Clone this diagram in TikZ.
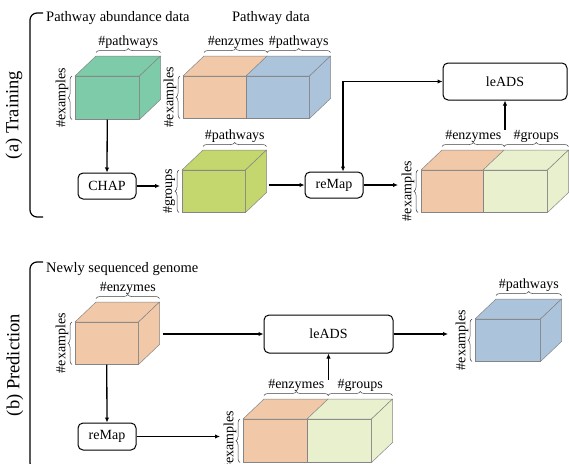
\documentclass[tikz,border=0pt]{standalone}
\usepackage{fontspec}
\setmainfont{Liberation Serif}
\usetikzlibrary{arrows.meta,calc,decorations.pathreplacing}

\definecolor{cgreen}{HTML}{7DCBA8}
\definecolor{corange}{HTML}{F1C9A9}
\definecolor{cblue}{HTML}{ABC3DB}
\definecolor{cyellow}{HTML}{C3D76E}
\definecolor{cpale}{HTML}{E8F0CD}
\definecolor{edge}{HTML}{858585}

% top and right faces of a box whose front face is a node
\newcommand\cubetop[2]{\filldraw[fill=#2,draw=edge,line width=0.5pt,line join=round]
  (#1.north west) -- ++(21,-20) -- ($(#1.north east)+(21,-20)$) -- (#1.north east) -- cycle;}
\newcommand\cubeside[2]{\filldraw[fill=#2,draw=edge,line width=0.5pt,line join=round]
  (#1.north east) -- ++(21,-20) -- ($(#1.south east)+(21,-20)$) -- (#1.south east) -- cycle;}
% small braces with their labels
\newcommand\topbrace[3]{\draw[smallbrace] ($(#1.north west)+(21,-23.5)$) -- ($(#2.north east)+(21,-23.5)$)
  node[midway,yshift=10pt,lab] {#3};}
\newcommand\leftbrace[2]{\draw[smallbrace] ($(#1.south west)+(-3,0)$) -- ($(#1.north west)+(-3,0)$)
  node[midway,xshift=-10pt,rotate=90,lab] {#2};}

\tikzset{
  x=1pt, y=-1pt,
  lab/.style={font=\fontsize{14}{16}\selectfont, inner sep=1pt},
  title/.style={font=\fontsize{14.5}{17}\selectfont, inner sep=0pt},
  part/.style={font=\fontsize{18.5}{21}\selectfont, inner sep=0pt, rotate=90},
  face/.style={draw=edge, line width=0.5pt, inner sep=0pt, anchor=north west},
  stepbox/.style={draw, line width=1pt, rounded corners=5pt, inner sep=0pt,
    font=\fontsize{14}{16}\selectfont},
  arrow/.style={line width=1.3pt, -{Latex[length=5pt,width=4.5pt]}},
  smallbrace/.style={draw=black!75, line width=0.5pt,
    decorate, decoration={brace, amplitude=4pt}},
  bigbrace/.style={line width=1.2pt, rounded corners=7pt},
}

\begin{document}
\begin{tikzpicture}
\useasboundingbox (0,0) rectangle (569,463);

% ---------------- (a) Training ----------------
\draw[bigbrace] (43,13) -- (30,13) -- (30,217) -- (43,217);
\node[part] (tlabel) at (14,115) {(a) Training};
\node[title, anchor=west] (abundtitle) at (46,18) {Pathway abundance data};
\node[title] (pwtitle) at (271,18) {Pathway data};

% pathway abundance data
\node[face, fill=cgreen, minimum width=64pt, minimum height=43pt] (abund) at (75,76) {};
\cubetop{abund}{cgreen}\cubeside{abund}{cgreen}
\topbrace{abund}{abund}{\#pathways}
\leftbrace{abund}{\#examples}

% pathway data: enzymes | pathways
\node[face, fill=corange, minimum width=63pt, minimum height=42pt] (pde) at (183,76) {};
\node[face, fill=cblue, minimum width=63pt, minimum height=42pt] (pdp) at (246,76) {};
\cubetop{pde}{corange}\cubetop{pdp}{cblue}\cubeside{pdp}{cblue}
\topbrace{pde}{pde}{\#enzymes}
\topbrace{pdp}{pdp}{\#pathways}
\leftbrace{pde}{\#examples}

% CHAP output: groups x pathways
\node[face, fill=cyellow, minimum width=63pt, minimum height=42pt] (grp) at (182,170) {};
\cubetop{grp}{cyellow}\cubeside{grp}{cyellow}
\topbrace{grp}{grp}{\#pathways}
\leftbrace{grp}{\#groups}

% reMap output: enzymes | groups
\node[face, fill=corange, minimum width=62pt, minimum height=42pt] (rte) at (421,170) {};
\node[face, fill=cpale, minimum width=64pt, minimum height=42pt] (rtg) at (483,170) {};
\cubetop{rte}{corange}\cubetop{rtg}{cpale}\cubeside{rtg}{cpale}
\topbrace{rte}{rte}{\#enzymes}
\topbrace{rtg}{rtg}{\#groups}
\leftbrace{rte}{\#examples}

% processing steps
\node[stepbox, minimum width=58pt, minimum height=26pt] (chap) at (107,186) {CHAP};
\node[stepbox, minimum width=58pt, minimum height=26pt] (remapT) at (334,185) {reMap};
\node[stepbox, minimum width=124pt, minimum height=37pt] (leadsT) at (505,81.5) {leADS};

\coordinate (grpin) at ($(chap.east -| grp.west)+(-22,0)$);
\coordinate (grpout) at ($(remapT.west -| grp.east)+(23,0)$);
\coordinate (rtin) at ($(remapT.east -| rte.west)+(-23,0)$);
\coordinate (junc) at (343,81.5);
\coordinate (rtup) at ($(leadsT.south)+(0,29)$);

\draw[arrow] (abund.south) -- (chap.north);
\draw[arrow] (chap.east) -- (grpin);
\draw[arrow] (grpout) -- (remapT.west);
\draw[arrow] (remapT.east) -- (rtin);
\draw[arrow] (junc) -- (leadsT.west);
\draw[arrow] ($(junc)+(0,-0.65)$) -- (junc |- remapT.north);
\draw[arrow] (rtup) -- (leadsT.south);

% ---------------- (b) Prediction ----------------
\draw[bigbrace] (43,262) -- (30,262) -- (30,470) -- (43,470);
\node[part] (plabel) at (15,365) {(b) Prediction};
\node[title, anchor=west] (gentitle) at (46,269) {Newly sequenced genome};

% new genome: enzymes
\node[face, fill=corange, minimum width=63pt, minimum height=42pt] (inp) at (75,322) {};
\cubetop{inp}{corange}\cubeside{inp}{corange}
\topbrace{inp}{inp}{\#enzymes}
\leftbrace{inp}{\#examples}

% reMap output: enzymes | groups
\node[face, fill=corange, minimum width=64pt, minimum height=43pt] (bte) at (243,419) {};
\node[face, fill=cpale, minimum width=64pt, minimum height=43pt] (btg) at (307,419) {};
\cubetop{bte}{corange}\cubetop{btg}{cpale}\cubeside{btg}{cpale}
\topbrace{bte}{bte}{\#enzymes}
\topbrace{btg}{btg}{\#groups}
\leftbrace{bte}{\#examples}

% predicted pathways
\node[face, fill=cblue, minimum width=65pt, minimum height=42pt] (outp) at (475,319) {};
\cubetop{outp}{cblue}\cubeside{outp}{cblue}
\topbrace{outp}{outp}{\#pathways}
\leftbrace{outp}{\#examples}

% processing steps
\node[stepbox, minimum width=129pt, minimum height=38pt] (leadsP) at (328.5,334) {leADS};
\node[stepbox, minimum width=58pt, minimum height=27pt] (remapP) at (107,436.5) {reMap};

\coordinate (inpout) at ($(leadsP.west -| inp.east)+(24,0)$);
\coordinate (btin) at ($(remapP.east -| bte.west)+(-23,0)$);
\coordinate (btup) at ($(leadsP.south)+(0,26)$);
\coordinate (outin) at ($(leadsP.east -| outp.west)+(-27,0)$);

\draw[arrow] (inpout) -- (leadsP.west);
\draw[arrow] (inp.south) -- (remapP.north);
\draw[arrow] (remapP.east) -- (btin);
\draw[arrow] (btup) -- (leadsP.south);
\draw[arrow] (leadsP.east) -- (outin);
\end{tikzpicture}
\end{document}
